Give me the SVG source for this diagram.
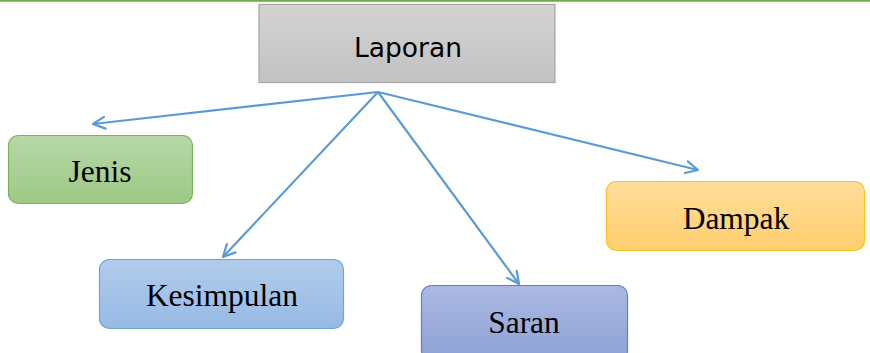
<svg xmlns="http://www.w3.org/2000/svg" width="870" height="353" viewBox="0 0 870 353">
<defs>
<linearGradient id="gGray" x1="0" y1="0" x2="0" y2="1"><stop offset="0" stop-color="#d3d3d3"/><stop offset="1" stop-color="#c2c2c2"/></linearGradient>
<linearGradient id="gGreen" x1="0" y1="0" x2="0" y2="1"><stop offset="0" stop-color="#b7d7a8"/><stop offset="1" stop-color="#9dc985"/></linearGradient>
<linearGradient id="gBlue" x1="0" y1="0" x2="0" y2="1"><stop offset="0" stop-color="#b2cceb"/><stop offset="1" stop-color="#96bae4"/></linearGradient>
<linearGradient id="gIndigo" x1="0" y1="0" x2="0" y2="1"><stop offset="0" stop-color="#abb9e2"/><stop offset="1" stop-color="#8ea2d7"/></linearGradient>
<linearGradient id="gOrange" x1="0" y1="0" x2="0" y2="1"><stop offset="0" stop-color="#ffdd9a"/><stop offset="1" stop-color="#ffcf70"/></linearGradient>
<marker id="arr" viewBox="0 0 14 14" refX="13" refY="7" markerWidth="14" markerHeight="14" markerUnits="userSpaceOnUse" orient="auto">
<path d="M1,1 L13,7 L1,13" fill="none" stroke="#5b9bd5" stroke-width="2.2" stroke-linecap="round" stroke-linejoin="round"/>
</marker>
<style>
.lbl{font-family:"Liberation Serif","Times New Roman",serif;font-size:31.5px;fill:#000;text-anchor:middle}
.conn{fill:none;stroke:#5b9bd5;stroke-width:2.2;marker-end:url(#arr)}
</style>
</defs>
<rect width="870" height="353" fill="#fff"/>
<line x1="0" y1="0.8" x2="870" y2="0.8" stroke="#70ad47" stroke-width="1.8"/>
<g id="connectors">
<line class="conn" x1="378" y1="92" x2="93" y2="124"/>
<line class="conn" x1="378" y1="92" x2="223" y2="257"/>
<line class="conn" x1="378" y1="92" x2="519" y2="284"/>
<line class="conn" x1="378" y1="92" x2="698" y2="170"/>
</g>
<g id="laporan">
<rect x="259" y="4.5" width="296" height="78" fill="url(#gGray)" stroke="#a5a5a5" stroke-width="1.2"/>
<text x="408" y="57" font-family="'Comic Sans MS','DejaVu Sans',sans-serif" font-size="26.5" text-anchor="middle" fill="#000">Laporan</text>
</g>
<g id="jenis">
<rect x="8.5" y="135.5" width="184" height="68" rx="10" fill="url(#gGreen)" stroke="#78b35a" stroke-width="1.2"/>
<text class="lbl" x="100" y="182">Jenis</text>
</g>
<g id="kesimpulan">
<rect x="99.5" y="259.5" width="244" height="69" rx="10" fill="url(#gBlue)" stroke="#6fa3da" stroke-width="1.2"/>
<text class="lbl" x="222" y="306">Kesimpulan</text>
</g>
<g id="saran">
<rect x="421.5" y="285.5" width="206" height="75" rx="10" fill="url(#gIndigo)" stroke="#5f7fc9" stroke-width="1.2"/>
<text class="lbl" x="524" y="333">Saran</text>
</g>
<g id="dampak">
<rect x="606.5" y="181.5" width="258" height="69" rx="10" fill="url(#gOrange)" stroke="#ffc21a" stroke-width="1.2"/>
<text class="lbl" x="736" y="229">Dampak</text>
</g>
</svg>
